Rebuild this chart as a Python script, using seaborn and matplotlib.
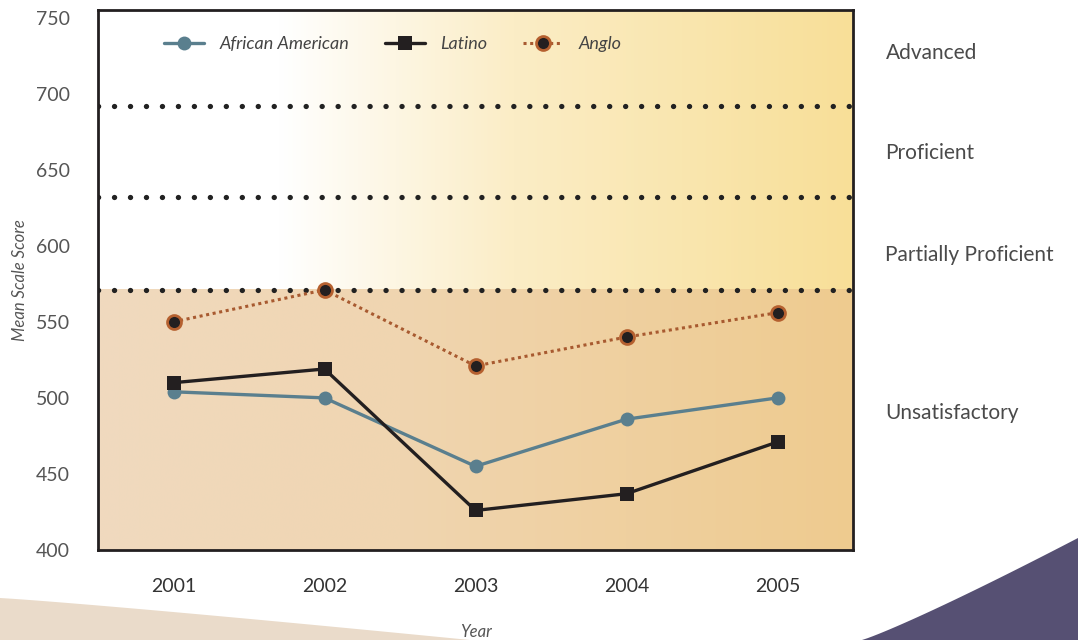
import numpy as np
import pandas as pd
import matplotlib
matplotlib.use("Agg")
import matplotlib.pyplot as plt
from matplotlib.colors import LinearSegmentedColormap
from matplotlib.patches import Polygon
from matplotlib.lines import Line2D
import seaborn as sns

# ---- data ----
years = [2001, 2002, 2003, 2004, 2005]
african_american = [504, 500, 455, 486, 500]
latino = [510, 519, 426, 437, 471]
anglo = [550, 571, 521, 540, 556]

level_cuts = [571, 632, 692]
level_names = ["Advanced", "Proficient", "Partially Proficient", "Unsatisfactory"]
level_label_y = [727, 661, 594, 490]
yticks = [400, 450, 500, 550, 600, 650, 700, 750]

sns.set_theme(style="white")
plt.rcParams["font.family"] = ["Lato", "DejaVu Sans"]
plt.rcParams["lines.scale_dashes"] = False

fig = plt.figure(figsize=(10.78, 6.4), dpi=100)
ax = fig.add_axes([98 / 1078, 1 - 550 / 640, 755 / 1078, 540 / 640])
ax.set_xlim(2000.5, 2005.5)
ax.set_ylim(400, 755)
ax.set_facecolor("none")

# background bands with horizontal gradients
grad = np.linspace(0, 1, 512).reshape(1, -1)
upper_cmap = LinearSegmentedColormap.from_list(
    "upper", [(0, "#ffffff"), (0.24, "#ffffff"), (0.55, "#fbedc6"), (1, "#f8df98")])
lower_cmap = LinearSegmentedColormap.from_list(
    "lower", [(0, "#f0dabf"), (0.4, "#f0d5b0"), (1, "#eecb8f")])
ax.imshow(grad, cmap=upper_cmap, aspect="auto", zorder=0,
          extent=[2000.5, 2005.5, level_cuts[0], 755], interpolation="bicubic")
ax.imshow(grad, cmap=lower_cmap, aspect="auto", zorder=0,
          extent=[2000.5, 2005.5, 400, level_cuts[0]], interpolation="bicubic")

# performance level boundaries (round dots, spacing in points)
for c in level_cuts:
    ax.axhline(c, color="#222222", lw=3.8, linestyle=(0, (0.1, 11.4)),
               dash_capstyle="round", zorder=1)

df = pd.DataFrame({"Year": years, "African American": african_american,
                   "Latino": latino, "Anglo": anglo})

anglo_dash = (0, (2.2, 2.6))
sns.lineplot(data=df, x="Year", y="African American", ax=ax, color="#5a7f8e",
             lw=2.4, marker="o", markersize=10, markeredgewidth=0,
             label="African American", zorder=3, legend=False)
sns.lineplot(data=df, x="Year", y="Latino", ax=ax, color="#231f20",
             lw=2.4, marker="s", markersize=10, markeredgewidth=0,
             label="Latino", zorder=4, legend=False)
sns.lineplot(data=df, x="Year", y="Anglo", ax=ax, color="#a85a30",
             lw=2.2, linestyle=anglo_dash, marker="o", markersize=10,
             markerfacecolor="#231f20", markeredgecolor="#b5602f",
             markeredgewidth=2, label="Anglo", zorder=5, legend=False)

handles = [
    Line2D([], [], color="#5a7f8e", lw=2.4, marker="o", markersize=10, markeredgewidth=0),
    Line2D([], [], color="#231f20", lw=2.4, marker="s", markersize=10, markeredgewidth=0),
    Line2D([], [], color="#a85a30", lw=2.2, linestyle=anglo_dash, marker="o",
           markersize=10, markerfacecolor="#231f20", markeredgecolor="#b5602f",
           markeredgewidth=2),
]
leg = ax.legend(handles, ["African American", "Latino", "Anglo"], loc="upper left",
                bbox_to_anchor=(0.066, 0.982), ncol=3, frameon=False,
                handlelength=2.2, columnspacing=2.0, handletextpad=0.85,
                prop={"style": "italic", "size": 13})
for t in leg.get_texts():
    t.set_color("#444444")

ax.set_xticks(years)
ax.set_xticklabels([str(y) for y in years])
ax.set_yticks(yticks)
ax.tick_params(axis="both", length=0, labelsize=14, colors="#333333")
ax.tick_params(axis="x", pad=20)
ax.tick_params(axis="y", pad=20, labelcolor="#555555")
ax.set_xlabel("Year", style="italic", fontsize=12, color="#555555", labelpad=21)
ax.set_ylabel("Mean Scale Score", style="italic", fontsize=12, color="#555555", labelpad=6)

for s in ax.spines.values():
    s.set_visible(True)
    s.set_color("#231f20")
    s.set_linewidth(2)
    s.set_zorder(6)

for name, yv in zip(level_names, level_label_y):
    ax.text(1.043, (yv - 400) / 355, name, transform=ax.transAxes, fontsize=15,
            color="#4a4a4a", va="center", ha="left")

# page decorations
t = np.linspace(0, 1, 40)
beige_x = 470 * t
beige_y = 42 - 42 * t ** 1.1
beige = np.column_stack([np.r_[beige_x, 0] / 1078, np.r_[beige_y, 0] / 640])
fig.patches.append(Polygon(beige, closed=True, transform=fig.transFigure,
                           facecolor="#eadbca", edgecolor="none", zorder=-1))
purple_x = 862 + (1078 - 862) * t
purple_y = 102 * t ** 1.1
purple = np.column_stack([np.r_[purple_x, 1078] / 1078, np.r_[purple_y, 0] / 640])
fig.patches.append(Polygon(purple, closed=True, transform=fig.transFigure,
                           facecolor="#565073", edgecolor="none", zorder=-1))

fig.savefig("out.png", dpi=100, facecolor="white")
